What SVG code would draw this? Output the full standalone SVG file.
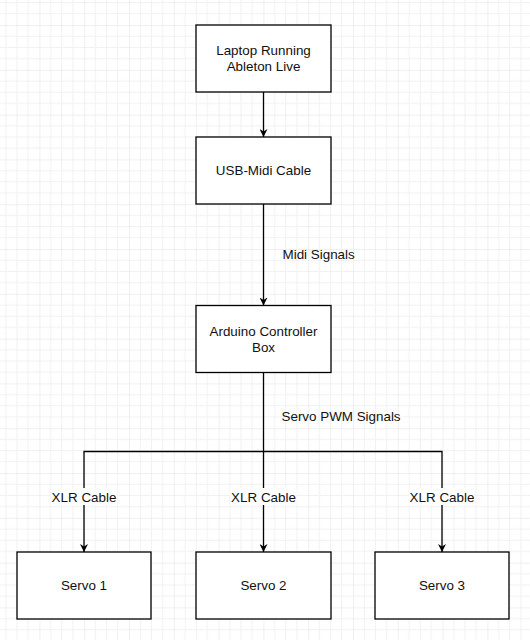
<svg xmlns="http://www.w3.org/2000/svg" width="530" height="640" viewBox="0 0 530 640">
  <defs>
    <pattern id="grid" patternUnits="userSpaceOnUse" x="39.4" y="25" width="44.8" height="44.8">
      <path d="M11.2 0V44.8M22.4 0V44.8M33.6 0V44.8M0 11.2H44.8M0 22.4H44.8M0 33.6H44.8" stroke="#f1f1f1" stroke-width="1" fill="none"/>
      <path d="M0 0V44.8M0 0H44.8" stroke="#e2e2e2" stroke-width="1" fill="none"/>
    </pattern>
    <marker id="arrow" viewBox="0 0 10 10" refX="10" refY="5" markerWidth="8" markerHeight="8" markerUnits="userSpaceOnUse" orient="auto">
      <path d="M0 0L10 5L0 10L3 5Z" fill="#000"/>
    </marker>
    <style>
      .box { fill: #fff; stroke: #000; stroke-width: 1.3; }
      .t { font-family: "Liberation Sans", Arial, sans-serif; font-size: 13.4px; fill: #111; text-anchor: middle; }
      .tl { font-family: "Liberation Sans", Arial, sans-serif; font-size: 13.4px; fill: #111; }
      .edge { fill: none; stroke: #000; stroke-width: 1.3; }
      .lblbg { fill: #fff; }
    </style>
  </defs>
  <rect width="530" height="640" fill="#fff"/>
  <rect width="530" height="640" fill="url(#grid)"/>

  <g id="connectors">
    <path class="edge" d="M263.5 92V137" marker-end="url(#arrow)"/>
    <path class="edge" d="M263.5 204V305.5" marker-end="url(#arrow)"/>
    <text class="tl" x="282.5" y="259">Midi Signals</text>
    <path class="edge" d="M263.5 373V451.5H84V552" marker-end="url(#arrow)"/>
    <path class="edge" d="M263.5 451.5V552" marker-end="url(#arrow)"/>
    <path class="edge" d="M263.5 451.5H442V552" marker-end="url(#arrow)"/>
    <text class="tl" x="281.5" y="421">Servo PWM Signals</text>
    <rect class="lblbg" x="51" y="488" width="66" height="17"/>
    <text class="t" x="84" y="501.5">XLR Cable</text>
    <rect class="lblbg" x="230.5" y="488" width="66" height="17"/>
    <text class="t" x="263.5" y="501.5">XLR Cable</text>
    <rect class="lblbg" x="409" y="488" width="66" height="17"/>
    <text class="t" x="442" y="501.5">XLR Cable</text>
  </g>

  <g id="laptop">
    <rect class="box" x="196" y="25" width="135" height="67"/>
    <text class="t" x="263.5" y="55">Laptop Running</text>
    <text class="t" x="263.5" y="71">Ableton Live</text>
  </g>
  <g id="usb-midi">
    <rect class="box" x="196" y="137" width="135" height="67"/>
    <text class="t" x="263.5" y="175">USB-Midi Cable</text>
  </g>
  <g id="arduino">
    <rect class="box" x="196" y="305.5" width="135" height="67"/>
    <text class="t" x="263.5" y="336">Arduino Controller</text>
    <text class="t" x="263.5" y="352">Box</text>
  </g>
  <g id="servo1">
    <rect class="box" x="17" y="552" width="134" height="67"/>
    <text class="t" x="84" y="590">Servo 1</text>
  </g>
  <g id="servo2">
    <rect class="box" x="196" y="552" width="135" height="67"/>
    <text class="t" x="263.5" y="590">Servo 2</text>
  </g>
  <g id="servo3">
    <rect class="box" x="375" y="552" width="134" height="67"/>
    <text class="t" x="442" y="590">Servo 3</text>
  </g>
</svg>
